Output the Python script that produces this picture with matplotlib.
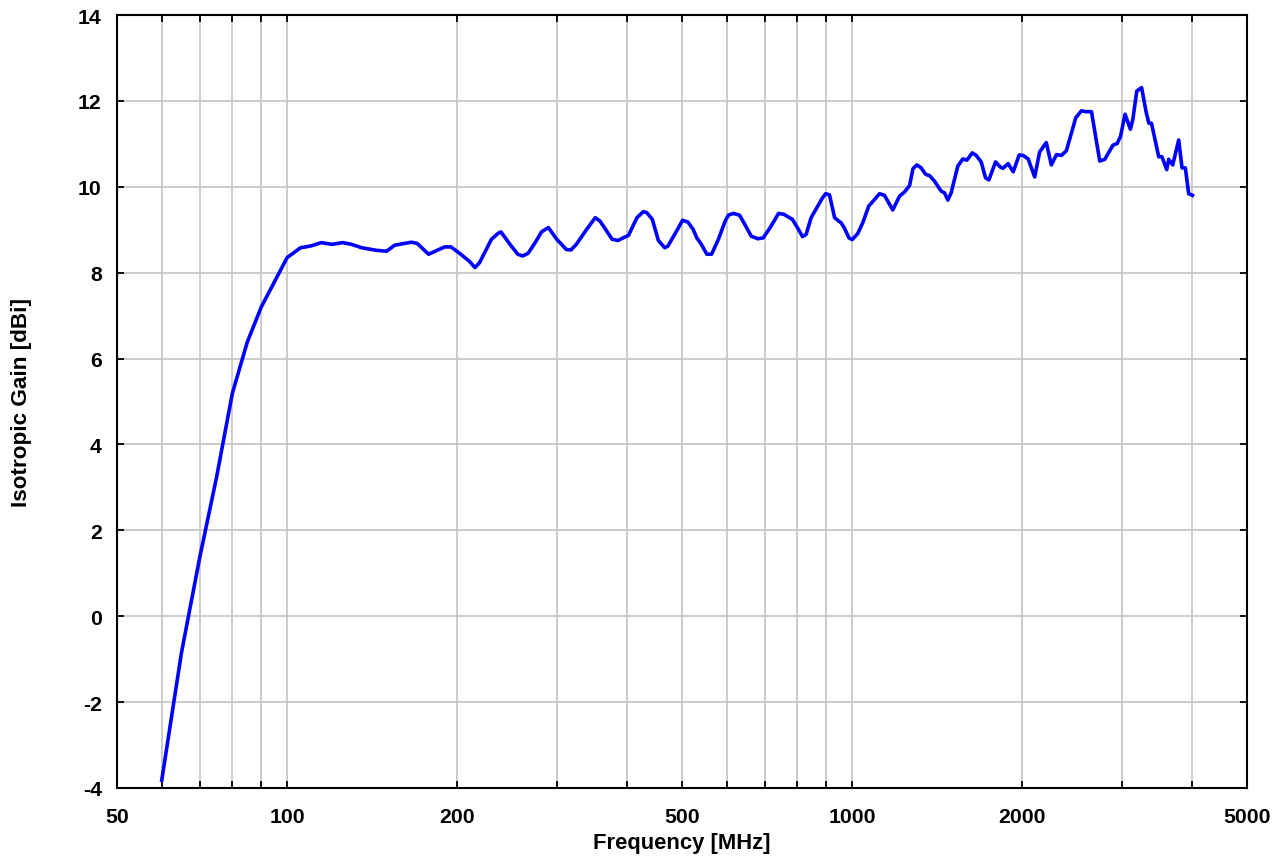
import numpy as np
import matplotlib
matplotlib.use("Agg")
import matplotlib.pyplot as plt
from matplotlib.ticker import FixedLocator, FixedFormatter, NullFormatter

# Antenna gain vs frequency
freq_mhz = [
    60, 65, 70, 75, 80, 85, 90, 100, 105.6, 110, 115, 120, 125.5, 130, 135.6,
    144, 150, 155, 166, 170, 178, 190, 195, 202, 210, 215, 219, 230, 236, 239,
    248, 256, 261, 267, 276, 282, 290, 300, 312, 318, 325, 339, 351, 358, 376,
    385, 402, 416, 427, 433, 443, 454, 466, 472, 491, 501, 512, 523, 531, 541,
    553, 564, 580, 596, 604, 616, 632, 646, 663, 681, 696, 716, 741, 757, 784,
    800, 817, 829, 846, 886, 898, 912, 931, 956, 969, 987, 1000, 1023, 1044,
    1070, 1095, 1118, 1141, 1180, 1213, 1238, 1264, 1281, 1302, 1325, 1349,
    1371, 1399, 1437, 1457, 1477, 1497, 1538, 1570, 1596, 1632, 1658, 1692,
    1722, 1746, 1794, 1829, 1849, 1888, 1928, 1975, 2008, 2049, 2104, 2147,
    2206, 2252, 2300, 2346, 2394, 2488, 2546, 2591, 2652, 2743, 2800, 2895,
    2946, 2986, 3041, 3108, 3139, 3190, 3253, 3315, 3351, 3387, 3488, 3534,
    3604, 3633, 3693, 3784, 3836, 3888, 3941, 4003,
]
gain_dbi = [
    -3.82, -0.86, 1.35, 3.23, 5.19, 6.38, 7.2, 8.35, 8.58, 8.62, 8.70, 8.66,
    8.70, 8.66, 8.58, 8.52, 8.50, 8.64, 8.71, 8.68, 8.43, 8.60, 8.60, 8.45,
    8.27, 8.12, 8.23, 8.78, 8.91, 8.95, 8.66, 8.43, 8.39, 8.45, 8.74, 8.95,
    9.05, 8.78, 8.54, 8.53, 8.66, 9.01, 9.28, 9.20, 8.78, 8.75, 8.87, 9.28,
    9.42, 9.40, 9.24, 8.75, 8.58, 8.62, 9.01, 9.22, 9.18, 9.01, 8.81, 8.66,
    8.43, 8.43, 8.78, 9.20, 9.34, 9.38, 9.34, 9.12, 8.85, 8.79, 8.81, 9.05,
    9.38, 9.36, 9.24, 9.05, 8.84, 8.89, 9.28, 9.74, 9.84, 9.81, 9.28, 9.16,
    9.04, 8.81, 8.77, 8.91, 9.16, 9.55, 9.70, 9.84, 9.80, 9.46, 9.78, 9.88,
    10.03, 10.42, 10.51, 10.44, 10.29, 10.26, 10.13, 9.90, 9.86, 9.69, 9.86,
    10.48, 10.65, 10.62, 10.79, 10.73, 10.58, 10.21, 10.16, 10.58, 10.46,
    10.43, 10.54, 10.35, 10.74, 10.73, 10.65, 10.23, 10.81, 11.03, 10.51,
    10.75, 10.73, 10.84, 11.61, 11.77, 11.75, 11.75, 10.60, 10.64, 10.97,
    11.01, 11.18, 11.69, 11.34, 11.57, 12.23, 12.31, 11.73, 11.48, 11.48,
    10.70, 10.70, 10.40, 10.64, 10.51, 11.09, 10.44, 10.44, 9.84, 9.80,
]

x_major = [50, 100, 200, 500, 1000, 2000, 5000]
x_minor = [60, 70, 80, 90, 300, 400, 600, 700, 800, 900, 3000, 4000]
y_ticks = [-4, -2, 0, 2, 4, 6, 8, 10, 12, 14]

plt.rcParams["font.family"] = ["Liberation Sans", "DejaVu Sans"]
plt.rcParams["font.weight"] = "bold"

fig = plt.figure(figsize=(12.83, 8.62), dpi=100)
ax = fig.add_axes([0.0912, 0.0847, 0.8808, 0.8967])

ax.plot(freq_mhz, gain_dbi, color="#0000ff", lw=2.6, zorder=3)

ax.set_xscale("log")
ax.set_xlim(50, 5000)
ax.set_ylim(-4, 14)

ax.xaxis.set_major_locator(FixedLocator(x_major))
ax.xaxis.set_major_formatter(FixedFormatter([str(v) for v in x_major]))
ax.xaxis.set_minor_locator(FixedLocator(x_minor))
ax.xaxis.set_minor_formatter(NullFormatter())
ax.set_yticks(y_ticks)
ax.set_yticklabels([str(v) for v in y_ticks])

ax.grid(True, which="both", color="#c8c8c8", lw=1.3, zorder=0)
ax.tick_params(which="both", direction="in", top=True, right=True,
               length=5, width=1.3, color="black", labelsize=15.3)
ax.tick_params(axis="x", pad=14)
ax.tick_params(axis="y", pad=11)

for s in ax.spines.values():
    s.set_linewidth(1.5)
    s.set_color("black")

ax.set_xlabel("Frequency [MHz]", fontsize=15.8, fontweight="bold", labelpad=4)
ax.set_ylabel("Isotropic Gain [dBi]", fontsize=16.2, fontweight="bold", labelpad=33)

fig.savefig("out.png", dpi=100)
